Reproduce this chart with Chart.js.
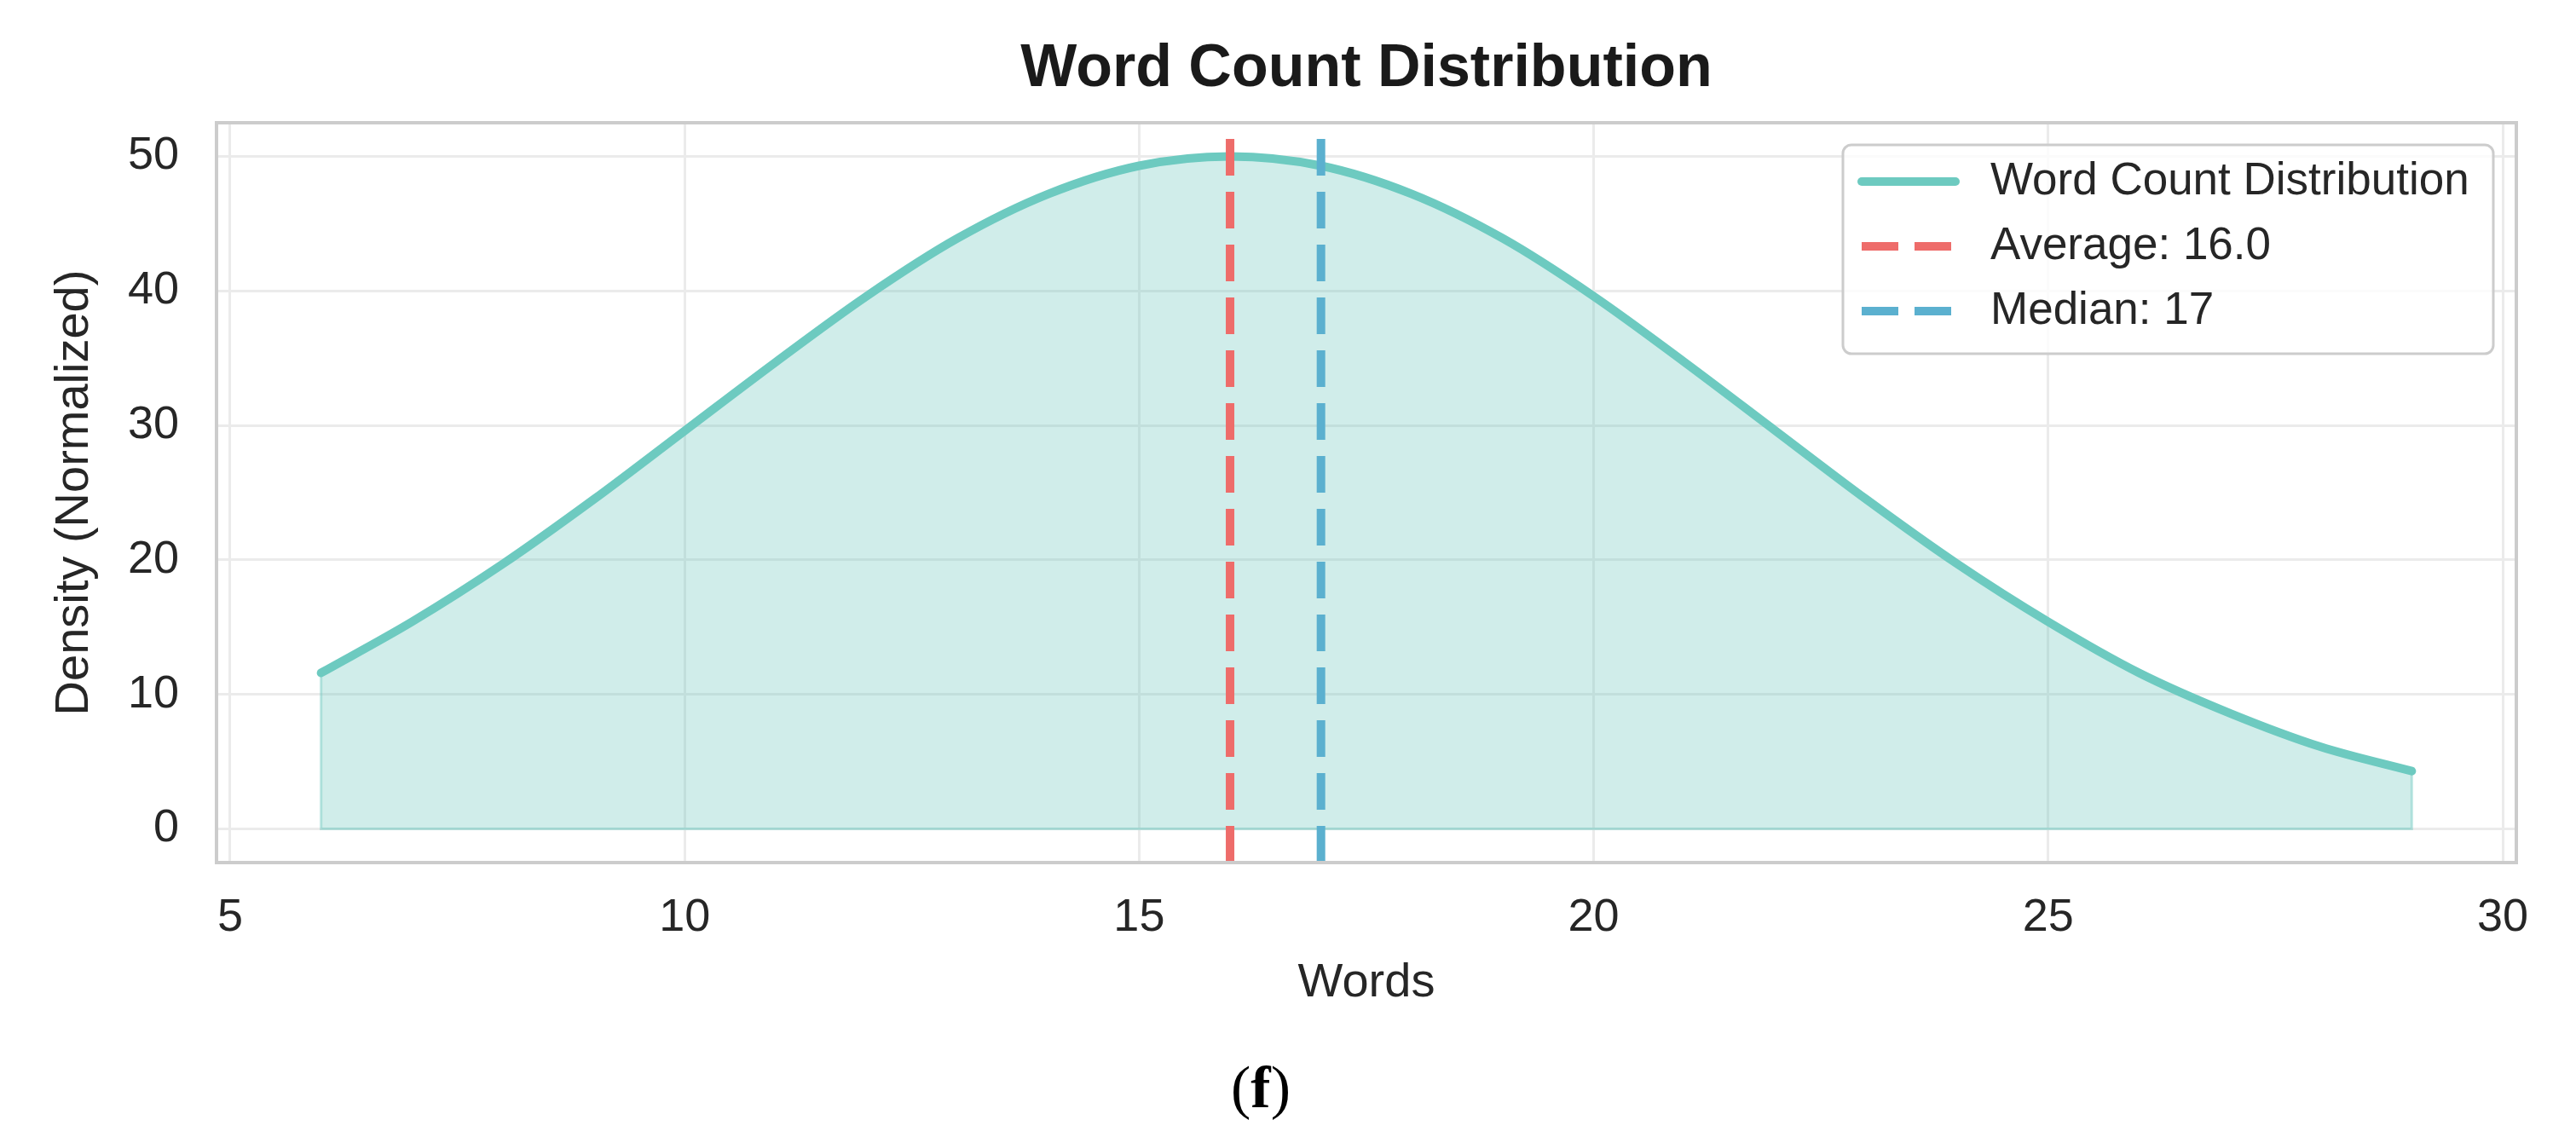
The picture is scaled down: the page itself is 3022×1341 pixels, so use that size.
<!DOCTYPE html>
<html>
<head>
<meta charset="utf-8">
<title>Word Count Distribution</title>
<script src="https://cdn.jsdelivr.net/npm/chart.js@4.4.1/dist/chart.umd.min.js"></script>
<style>
  html, body { margin: 0; padding: 0; background: #ffffff; }
  #wrap { position: relative; width: 3022px; height: 1341px; }
  #caption {
    position: absolute;
    left: 1479px;
    top: 1276px;
    transform: translate(-50%, -50%);
    font-family: "Liberation Serif", "Times New Roman", serif;
    font-size: 70px;
    line-height: 1;
    color: #000000;
  }
</style>
</head>
<body>
<div id="wrap">
  <canvas id="chart" width="3022" height="1341"></canvas>
  <div id="caption">(<b>f</b>)</div>
</div>
<script>
// word counts along the x axis
const words = [6, 7, 8, 9, 10, 11, 12, 13, 14, 15, 16, 17, 18, 19, 20, 21, 22, 23, 24, 25, 26, 27, 28, 29];

// normalized density
const density = [11.6, 15.4, 19.7, 24.5, 29.6, 34.7, 39.6, 43.9, 47.2, 49.3, 50.0, 49.3,
                 47.2, 43.9, 39.6, 34.7, 29.6, 24.5, 19.7, 15.4, 11.6, 8.6, 6.1, 4.3];

// summary stats shown as dashed lines
const averageWords = 16.0;
const medianWords = 17;

// tick values
const xTicks = [5, 10, 15, 20, 25, 30];
const yTicks = [0, 10, 20, 30, 40, 50];

// axis limits (data range plus a 5% margin)
const xMin = 4.85;
const xMax = 30.15;
const yMin = -2.5;
const yMax = 52.5;

// colors
const curveColor = "#6DCAC0";
const fillColor = "rgba(108, 200, 190, 0.32)";
const edgeColor = "rgba(108, 200, 190, 0.45)";
const averageColor = "#EE6C6A";
const medianColor = "#5BB0CF";
const textColor = "#262626";
const gridColor = "#EBEBEB";
const frameColor = "#CCCCCC";

Chart.defaults.font.family = "'Liberation Sans', Arial, sans-serif";
Chart.defaults.color = textColor;

// draws the grey box round the plot area
const frame = {
  id: "frame",
  afterDatasetsDraw(chart) {
    const ctx = chart.ctx;
    const a = chart.chartArea;
    ctx.save();
    ctx.strokeStyle = frameColor;
    ctx.lineWidth = 4;
    ctx.strokeRect(a.left, a.top, a.right - a.left, a.bottom - a.top);
    ctx.restore();
  }
};

// legend in the upper right corner of the plot
const cornerLegend = {
  id: "cornerLegend",
  afterDraw(chart) {
    const ctx = chart.ctx;
    const a = chart.chartArea;
    const items = chart.data.datasets.filter(d => d.inLegend);

    const right = a.right - 27;
    const left = right - 763;
    const top = a.top + 26;
    const height = 245;

    ctx.save();
    ctx.beginPath();
    ctx.roundRect(left, top, right - left, height, 10);
    ctx.fillStyle = "rgba(255, 255, 255, 0.8)";
    ctx.fill();
    ctx.strokeStyle = frameColor;
    ctx.lineWidth = 3;
    ctx.stroke();

    items.forEach((d, i) => {
      const y = top + 43 + i * 76;

      ctx.beginPath();
      ctx.strokeStyle = d.borderColor;
      ctx.lineWidth = d.borderWidth;
      ctx.lineCap = d.borderDash ? "butt" : "round";
      ctx.setLineDash(d.borderDash || []);
      ctx.moveTo(left + 22, y);
      ctx.lineTo(left + 132, y);
      ctx.stroke();
      ctx.setLineDash([]);

      ctx.fillStyle = textColor;
      ctx.font = "53px 'Liberation Sans', Arial, sans-serif";
      ctx.textBaseline = "middle";
      ctx.textAlign = "left";
      ctx.fillText(d.label, left + 173, y);
    });
    ctx.restore();
  }
};

const curvePoints = words.map((w, i) => ({ x: w, y: density[i] }));
const last = words.length - 1;

new Chart(document.getElementById("chart"), {
  type: "line",
  data: {
    datasets: [
      {
        label: "Word Count Distribution",
        inLegend: true,
        data: curvePoints,
        borderColor: curveColor,
        borderWidth: 10,
        borderCapStyle: "round",
        backgroundColor: fillColor,
        fill: "origin",
        cubicInterpolationMode: "monotone",
        pointRadius: 0,
        order: 3
      },
      {
        label: `Average: ${averageWords.toFixed(1)}`,
        inLegend: true,
        data: [{ x: averageWords, y: yMin }, { x: averageWords, y: yMax }],
        borderColor: averageColor,
        borderWidth: 10,
        borderDash: [43, 19],
        pointRadius: 0,
        fill: false,
        order: 1
      },
      {
        label: `Median: ${medianWords}`,
        inLegend: true,
        data: [{ x: medianWords, y: yMin }, { x: medianWords, y: yMax }],
        borderColor: medianColor,
        borderWidth: 10,
        borderDash: [43, 19],
        pointRadius: 0,
        fill: false,
        order: 2
      },
      {
        // outline of the shaded area
        label: "edge",
        inLegend: false,
        data: [
          { x: words[0], y: density[0] },
          { x: words[0], y: 0 },
          { x: words[last], y: 0 },
          { x: words[last], y: density[last] }
        ],
        borderColor: edgeColor,
        borderWidth: 3,
        pointRadius: 0,
        fill: false,
        order: 4
      }
    ]
  },
  options: {
    responsive: false,
    animation: false,
    layout: {
      padding: { left: 0, right: 70, top: 0, bottom: 154 }
    },
    plugins: {
      legend: { display: false },
      tooltip: { enabled: false },
      title: {
        display: true,
        fullSize: false,
        text: "Word Count Distribution",
        color: "#1a1a1a",
        font: { size: 70, weight: "bold" },
        padding: { top: 40, bottom: 20 }
      }
    },
    scales: {
      x: {
        type: "linear",
        min: xMin,
        max: xMax,
        afterBuildTicks: scale => { scale.ticks = xTicks.map(v => ({ value: v })); },
        afterFit: scale => { scale.height = 175; },
        border: { display: false },
        grid: { color: gridColor, lineWidth: 3, drawTicks: false },
        ticks: {
          padding: 33,
          color: textColor,
          font: { size: 54 }
        },
        title: {
          display: true,
          text: "Words",
          color: textColor,
          font: { size: 56 },
          padding: { top: 0, bottom: 0 }
        }
      },
      y: {
        type: "linear",
        min: yMin,
        max: yMax,
        afterBuildTicks: scale => { scale.ticks = yTicks.map(v => ({ value: v })); },
        afterFit: scale => { scale.width = 254; },
        border: { display: false },
        grid: { color: gridColor, lineWidth: 3, drawTicks: false },
        ticks: {
          padding: 44,
          color: textColor,
          font: { size: 54 }
        },
        title: {
          display: true,
          text: "Density (Normalized)",
          color: textColor,
          font: { size: 56 },
          padding: { top: 54, bottom: 0 }
        }
      }
    }
  },
  plugins: [frame, cornerLegend]
});
</script>
</body>
</html>
